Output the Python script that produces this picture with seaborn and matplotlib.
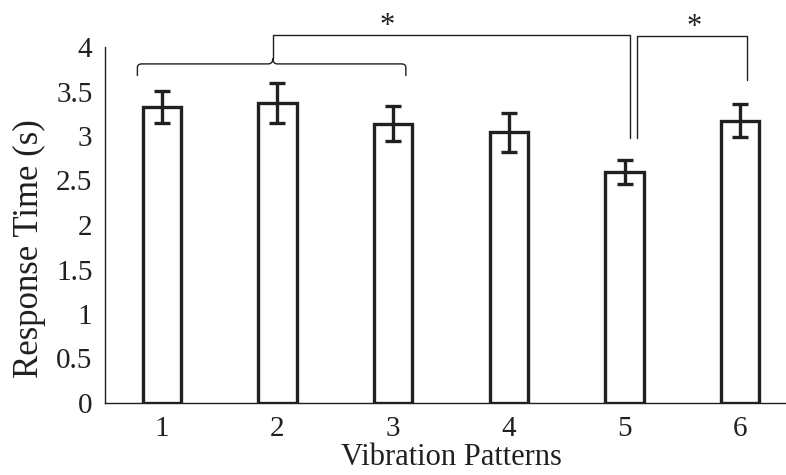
import numpy as np
import pandas as pd
import matplotlib
matplotlib.use("Agg")
import matplotlib.pyplot as plt
from matplotlib.path import Path
from matplotlib.patches import PathPatch
import seaborn as sns

# data
patterns = ["1", "2", "3", "4", "5", "6"]
mean_time = [3.33, 3.37, 3.14, 3.04, 2.60, 3.17]
err_time = [0.18, 0.22, 0.20, 0.22, 0.135, 0.185]

ink = "#231f20"

sns.set_theme(style="white")
plt.rcParams["font.family"] = ["Liberation Serif", "DejaVu Serif"]
plt.rcParams["text.color"] = ink

df = pd.DataFrame({"pattern": patterns, "time": mean_time})

fig = plt.figure(figsize=(7.86, 4.75), dpi=100)
ax = fig.add_axes([105 / 786, 72 / 475, 1 - 105 / 786, 356 / 475])

sns.barplot(data=df, x="pattern", y="time", color="white", edgecolor=ink,
            linewidth=2.4, width=0.33, errorbar=None, ax=ax)
ax.errorbar(np.arange(len(patterns)), mean_time, yerr=err_time, fmt="none",
            ecolor=ink, elinewidth=2.4, capsize=6, capthick=2.4, zorder=5)

ax.set_xlim(-0.49, 5.395)
ax.set_ylim(0, 4)
ax.set_yticks(np.arange(0, 4.01, 0.5))
ax.set_yticklabels(["0", "0.5", "1", "1.5", "2", "2.5", "3", "3.5", "4"])
ax.tick_params(axis="both", length=0, labelsize=21, pad=9, colors=ink)
ax.set_xlabel("Vibration Patterns", fontsize=22, color=ink)
ax.set_ylabel("Response Time (s)", fontsize=25, color=ink)
ax.xaxis.set_label_coords(0.509, -0.112)
ax.yaxis.set_label_coords(-0.087, 0.433)

for side in ["top", "right"]:
    ax.spines[side].set_visible(False)
for side in ["left", "bottom"]:
    ax.spines[side].set_color(ink)
    ax.spines[side].set_linewidth(1.0)

# significance brackets
br = dict(lw=1.0, color=ink, clip_on=False)
# curly brace over patterns 1-3
bl, brt, by, bend, bc = -0.21, 2.11, 3.81, 3.675, 0.96
verts = [(bl, bend), (bl, by - 0.04), (bl, by), (bl + 0.04, by),
         (bc - 0.04, by), (bc, by), (bc, by + 0.06),
         (bc, by), (bc + 0.04, by),
         (brt - 0.04, by), (brt, by), (brt, by - 0.04), (brt, bend)]
codes = [Path.MOVETO, Path.LINETO, Path.CURVE3, Path.CURVE3,
         Path.LINETO, Path.CURVE3, Path.CURVE3,
         Path.CURVE3, Path.CURVE3,
         Path.LINETO, Path.CURVE3, Path.CURVE3, Path.LINETO]
ax.add_patch(PathPatch(Path(verts, codes), fill=False, **br))
ax.plot([bc, bc, 4.045, 4.045], [by + 0.06, 4.135, 4.135, 2.98], **br)
ax.plot([4.105, 4.105, 5.056, 5.056], [2.98, 4.125, 4.125, 3.63], **br)
ax.text(1.95, 4.07, "*", ha="center", va="bottom", fontsize=22, color=ink,
        clip_on=False)
ax.text(4.6, 4.06, "*", ha="center", va="bottom", fontsize=22, color=ink,
        clip_on=False)

fig.savefig("out.png", dpi=100)
